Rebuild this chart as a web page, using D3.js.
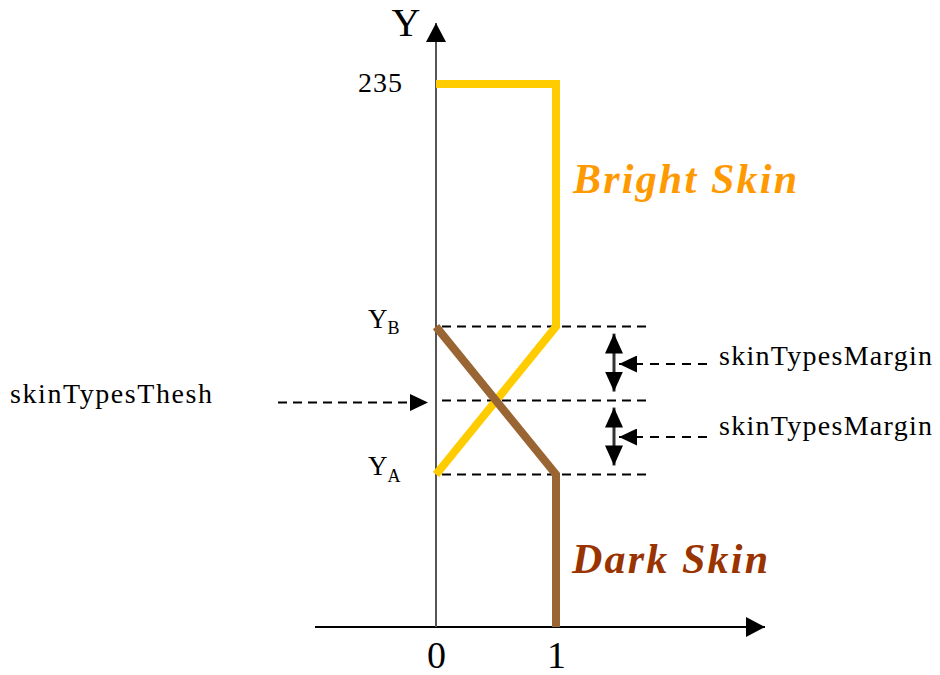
<!DOCTYPE html>
<html><head><meta charset="utf-8">
<script src="https://cdn.jsdelivr.net/npm/d3@7/dist/d3.min.js"></script>
<style>
body{margin:0;background:#fff;}
text{font-family:"Liberation Serif","Times New Roman",serif;}
</style></head>
<body><svg id="c" width="940" height="675"></svg>
<script>
// ---- data ----
const xTicks = [0, 1];
const yTopTick = [235];
const yA = 66, yB = 130, thresh = 98;
const brightX = [0, 1, 1, 0];
const brightY = [235, 235, yB, yA];
const darkX = [0, 1, 1];
const darkY = [yB, yA, 0];
const labels = {bright: "Bright  Skin", dark: "Dark Skin", margin: "skinTypesMargin", thresh: "skinTypesThesh", axisY: "Y"};

const svg = d3.select("#c");
const x = d3.scaleLinear().domain([0, 1]).range([436, 556]);
const y = d3.scaleLinear().domain([0, 235]).range([627, 84]);

// arrow markers
const defs = svg.append("defs");
function marker(id, w, h) {
  defs.append("marker").attr("id", id).attr("viewBox", `0 0 ${w} ${h}`)
    .attr("refX", w).attr("refY", h / 2).attr("markerWidth", w).attr("markerHeight", h)
    .attr("markerUnits", "userSpaceOnUse").attr("orient", "auto-start-reverse")
    .append("path").attr("d", `M0,0L${w},${h/2}L0,${h}Z`).attr("fill", "#000");
}
marker("axArrow", 19, 20);
marker("smArrow", 18, 17);
marker("dblArrow", 20, 18);

// axes lines
svg.append("line").attr("x1", x(-1) - 1).attr("x2", 765).attr("y1", y(0)).attr("y2", y(0))
  .attr("stroke", "#000").attr("stroke-width", 2).attr("marker-end", "url(#axArrow)");
svg.append("line").attr("x1", x(0)).attr("x2", x(0)).attr("y1", y(0)).attr("y2", 23)
  .attr("stroke", "#555").attr("stroke-width", 2).attr("marker-end", "url(#axArrow)");

// x tick labels via axis
const gx = svg.append("g").attr("transform", `translate(0,${y(0)})`)
  .call(d3.axisBottom(x).tickValues(xTicks).tickSize(0).tickPadding(14).tickFormat(d3.format("d")));
gx.select(".domain").remove();
gx.selectAll("text").attr("font-family", "Liberation Serif").attr("font-size", 38).attr("fill", "#000");

// y tick 235 via axis
const gy = svg.append("g").attr("transform", `translate(${x(0) - 33},0)`)
  .call(d3.axisLeft(y).tickValues(yTopTick).tickSize(0).tickPadding(0));
gy.select(".domain").remove();
gy.selectAll("text").attr("font-family", "Liberation Serif").attr("font-size", 28).attr("fill", "#000")
  .attr("dy", "0.25em").attr("letter-spacing", 1);

// Y axis label
svg.append("text").attr("x", 406).attr("y", 36).attr("text-anchor", "middle")
  .attr("font-size", 40).attr("fill", "#000").text(labels.axisY);

// YB / YA labels
function subLabel(v, sub, dySub) {
  const t = svg.append("text").attr("x", 368).attr("y", y(v) + 1).attr("font-size", 27).attr("fill", "#000");
  t.append("tspan").text("Y");
  t.append("tspan").attr("font-size", 18).attr("dy", dySub).text(sub);
}
subLabel(yB, "B", 6);
subLabel(yA, "A", 7);

// dashed guide lines
[yB, thresh, yA].forEach(v => {
  svg.append("line").attr("x1", x(0) + 6).attr("x2", 648).attr("y1", y(v)).attr("y2", y(v))
    .attr("stroke", "#000").attr("stroke-width", 2).attr("stroke-dasharray", "9,6");
});

// threshold arrow from left
svg.append("line").attr("x1", 278).attr("x2", x(0) - 8).attr("y1", y(thresh) + 2).attr("y2", y(thresh) + 2)
  .attr("stroke", "#000").attr("stroke-width", 2).attr("stroke-dasharray", "9,6").attr("marker-end", "url(#smArrow)");
svg.append("text").attr("x", 10).attr("y", y(thresh) + 2).attr("font-size", 28).attr("fill", "#000")
  .attr("textLength", 202).attr("lengthAdjust", "spacing").text(labels.thresh);

// margin double arrows
const ax = 614;
[[thresh, yB], [yA, thresh]].forEach(([lo, hi], i) => {
  svg.append("line").attr("x1", ax).attr("x2", ax).attr("y1", y(hi) + 7).attr("y2", y(lo) - 9)
    .attr("stroke", "#333").attr("stroke-width", 3)
    .attr("marker-start", "url(#dblArrow)").attr("marker-end", "url(#dblArrow)");
  const my = i === 0 ? 364 : 437;
  svg.append("line").attr("x1", 707).attr("x2", ax + 5).attr("y1", my).attr("y2", my)
    .attr("stroke", "#000").attr("stroke-width", 2).attr("stroke-dasharray", "9,7").attr("marker-end", "url(#smArrow)");
  svg.append("text").attr("x", 719).attr("y", i === 0 ? 365 : 435).attr("font-size", 28).attr("fill", "#000")
    .attr("textLength", 213).attr("lengthAdjust", "spacing").text(labels.margin);
});

// curves
const line = d3.line().x(d => x(d[0])).y(d => y(d[1]));
svg.append("path").attr("d", line(brightX.map((v, i) => [v, brightY[i]])))
  .attr("fill", "none").attr("stroke", "#FFCC00").attr("stroke-width", 8).attr("stroke-linejoin", "miter");
svg.append("path").attr("d", line(darkX.map((v, i) => [v, darkY[i]])))
  .attr("fill", "none").attr("stroke", "#996633").attr("stroke-width", 8).attr("stroke-linejoin", "miter");

// series labels
svg.append("text").attr("x", 573).attr("y", 193).attr("font-size", 42).attr("font-weight", "bold").attr("font-style", "italic")
  .attr("fill", "#FF9900").attr("textLength", 224).attr("lengthAdjust", "spacing").text(labels.bright);
svg.append("text").attr("x", 572).attr("y", 573).attr("font-size", 42).attr("font-weight", "bold").attr("font-style", "italic")
  .attr("fill", "#993300").attr("textLength", 196).attr("lengthAdjust", "spacing").text(labels.dark);
</script></body></html>
